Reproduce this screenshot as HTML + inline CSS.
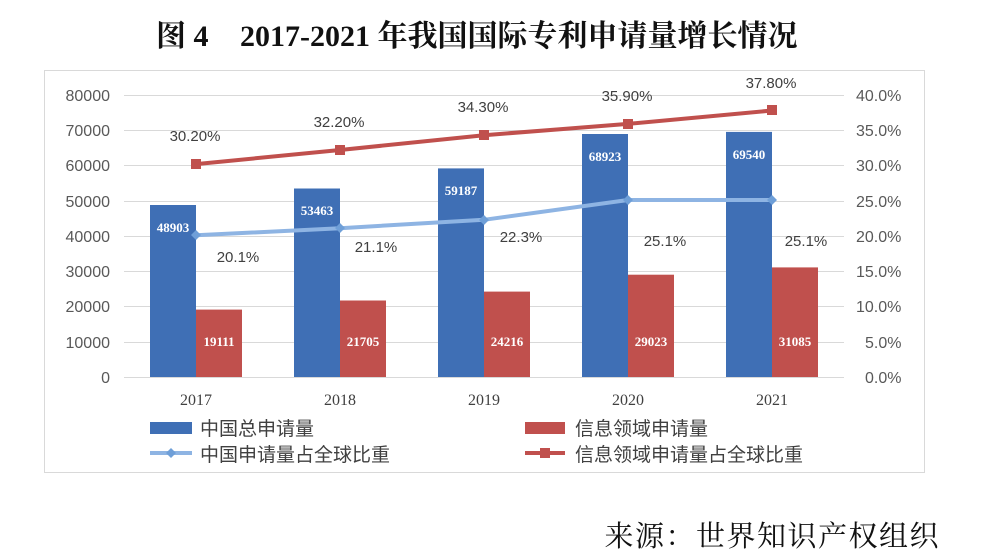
<!DOCTYPE html>
<html><head><meta charset="utf-8"><style>
html,body{margin:0;padding:0;background:#fff;}
svg{display:block;}
</style></head><body>
<svg width="982" height="559" viewBox="0 0 982 559" xmlns="http://www.w3.org/2000/svg">
<text x="156" y="46" font-family="Liberation Serif, Noto Serif CJK SC, serif" font-size="30" font-weight="bold" fill="#111">图 4<tspan x="240">2017-2021 年我国国际专利申请量增长情况</tspan></text>
<rect x="44.5" y="70.5" width="880" height="402" fill="#fff" stroke="#d9d9d9"/>
<g stroke="#d9d9d9" stroke-width="1">
<line x1="124" x2="844" y1="95.5" y2="95.5"/><line x1="124" x2="844" y1="130.5" y2="130.5"/>
<line x1="124" x2="844" y1="165.5" y2="165.5"/><line x1="124" x2="844" y1="201.5" y2="201.5"/>
<line x1="124" x2="844" y1="236.5" y2="236.5"/><line x1="124" x2="844" y1="271.5" y2="271.5"/>
<line x1="124" x2="844" y1="306.5" y2="306.5"/><line x1="124" x2="844" y1="342.5" y2="342.5"/>
<line x1="124" x2="844" y1="377.5" y2="377.5"/>
</g>
<g font-family="Liberation Sans, sans-serif" font-size="16" fill="#595959" text-anchor="end">
<text x="110" y="101">80000</text><text x="110" y="136">70000</text><text x="110" y="171">60000</text>
<text x="110" y="207">50000</text><text x="110" y="242">40000</text><text x="110" y="277">30000</text>
<text x="110" y="312">20000</text><text x="110" y="348">10000</text><text x="110" y="383">0</text>
</g>
<g font-family="Liberation Sans, sans-serif" font-size="16" fill="#595959" text-anchor="start">
<text x="856" y="101">40.0%</text><text x="856" y="136">35.0%</text><text x="856" y="171">30.0%</text>
<text x="856" y="207">25.0%</text><text x="856" y="242">20.0%</text><text x="856" y="277">15.0%</text>
<text x="856" y="312">10.0%</text><text x="865" y="348">5.0%</text><text x="865" y="383">0.0%</text>
</g>
<g fill="#3f6fb5">
<rect x="150" y="205" width="46" height="172"/>
<rect x="294" y="188.5" width="46" height="188.5"/>
<rect x="438" y="168.4" width="46" height="208.6"/>
<rect x="582" y="134" width="46" height="243"/>
<rect x="726" y="131.9" width="46" height="245.1"/>
</g>
<g fill="#c0504d">
<rect x="196" y="309.6" width="46" height="67.4"/>
<rect x="340" y="300.5" width="46" height="76.5"/>
<rect x="484" y="291.6" width="46" height="85.4"/>
<rect x="628" y="274.7" width="46" height="102.3"/>
<rect x="772" y="267.4" width="46" height="109.6"/>
</g>
<g font-family="Liberation Serif, serif" font-size="13" font-weight="bold" fill="#fff" text-anchor="middle">
<text x="173" y="232">48903</text><text x="317" y="215">53463</text><text x="461" y="195">59187</text>
<text x="605" y="161">68923</text><text x="749" y="159">69540</text>
<text x="219" y="346">19111</text><text x="363" y="346">21705</text><text x="507" y="346">24216</text>
<text x="651" y="346">29023</text><text x="795" y="346">31085</text>
</g>
<polyline points="196,235.3 340,228.2 484,219.8 628,200 772,200" fill="none" stroke="#8eb4e3" stroke-width="4"/>
<g fill="#6f9fd8">
<path d="M196,230 l5,5 l-5,5 l-5,-5z"/><path d="M340,223 l5,5 l-5,5 l-5,-5z"/><path d="M484,215 l5,5 l-5,5 l-5,-5z"/><path d="M628,195 l5,5 l-5,5 l-5,-5z"/><path d="M772,195 l5,5 l-5,5 l-5,-5z"/>
</g>
<polyline points="196,164.1 340,150 484,135.2 628,123.9 772,110.5" fill="none" stroke="#c0504d" stroke-width="4"/>
<g fill="#c0504d">
<rect x="191" y="159" width="10" height="10"/><rect x="335" y="145" width="10" height="10"/><rect x="479" y="130" width="10" height="10"/><rect x="623" y="119" width="10" height="10"/><rect x="767" y="105" width="10" height="10"/>
</g>
<g font-family="Liberation Sans, sans-serif" font-size="15" fill="#404040" text-anchor="middle">
<text x="195" y="141">30.20%</text><text x="339" y="127">32.20%</text><text x="483" y="112">34.30%</text>
<text x="627" y="101">35.90%</text><text x="771" y="88">37.80%</text>
<text x="238" y="262">20.1%</text><text x="376" y="252">21.1%</text><text x="521" y="242">22.3%</text>
<text x="665" y="246">25.1%</text><text x="806" y="246">25.1%</text>
</g>
<g font-family="Liberation Serif, serif" font-size="16" fill="#404040" text-anchor="middle">
<text x="196" y="405">2017</text><text x="340" y="405">2018</text><text x="484" y="405">2019</text><text x="628" y="405">2020</text><text x="772" y="405">2021</text>
</g>
<rect x="150" y="422" width="42" height="12" fill="#3f6fb5"/>
<rect x="525" y="422" width="40" height="12" fill="#c0504d"/>
<line x1="150" x2="192" y1="453" y2="453" stroke="#8eb4e3" stroke-width="4"/>
<path d="M171,448 l5,5 l-5,5 l-5,-5z" fill="#6f9fd8"/>
<line x1="525" x2="565" y1="453" y2="453" stroke="#c0504d" stroke-width="4"/>
<rect x="540" y="448" width="10" height="10" fill="#c0504d"/>
<g font-family="Noto Sans CJK SC, sans-serif" font-size="19" fill="#404040">
<text x="200" y="435">中国总申请量</text><text x="575" y="435">信息领域申请量</text>
<text x="200" y="461">中国申请量占全球比重</text><text x="575" y="461">信息领域申请量占全球比重</text>
</g>
<text x="940" y="546" text-anchor="end" font-family="Noto Serif CJK SC, serif" font-size="29" letter-spacing="1.5" fill="#111">来源：世界知识产权组织</text>
</svg>
</body></html>
